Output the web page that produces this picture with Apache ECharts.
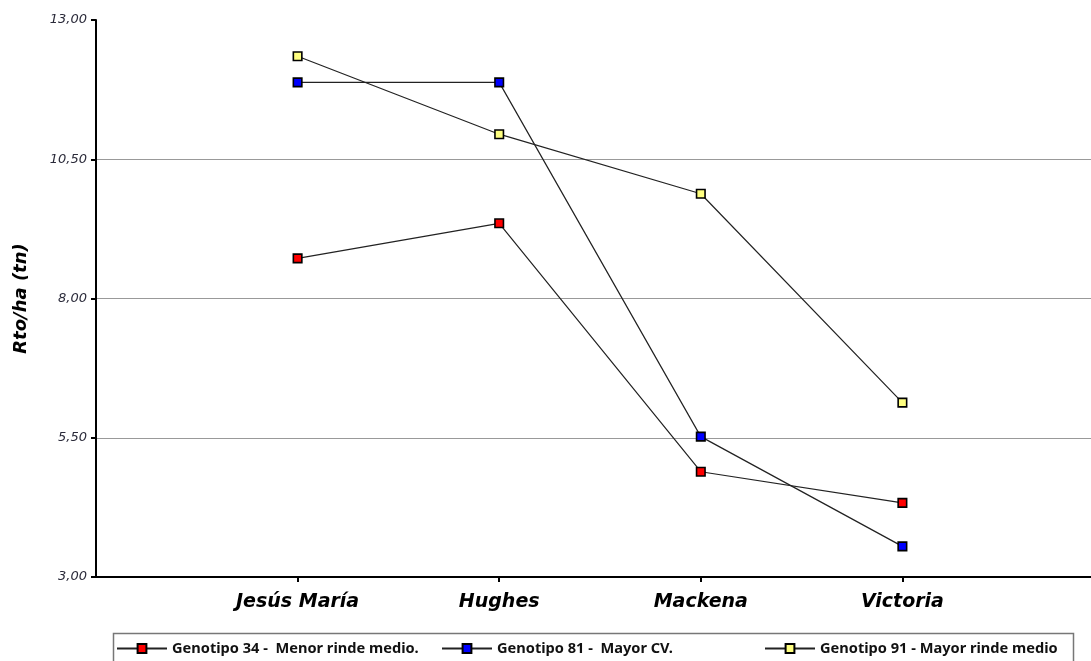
<!DOCTYPE html>
<html>
<head>
<meta charset="utf-8">
<script src="https://cdn.jsdelivr.net/npm/echarts@6/dist/echarts.min.js"></script>
<style>
  html, body { margin: 0; padding: 0; background: #fff; }
  #chart { width: 1091px; height: 661px; }
</style>
</head>
<body>
<div id="chart"></div>
<script>
// Sites (x axis) and yield per genotype (t/ha)
const sites = ['Jesús María', 'Hughes', 'Mackena', 'Victoria'];
const gen34 = [8.72, 9.35, 4.89, 4.33];
const gen81 = [11.88, 11.88, 5.52, 3.55];
const gen91 = [12.35, 10.95, 9.88, 6.13];
const yTicks = [3, 5.5, 8, 10.5, 13];

const names = [
  'Genotipo 34 -  Menor rinde medio.',
  'Genotipo 81 -  Mayor CV.',
  'Genotipo 91 - Mayor rinde medio'
];
const fills = ['#ff0000', '#0000ff', '#ffff80'];
const values = [gen34, gen81, gen91];

// blank slots on both ends leave room around the sites
const axisCats = [''].concat(sites, ['']);

const chart = echarts.init(document.getElementById('chart'));

const series = values.map((vals, s) => ({
  name: names[s],
  type: 'line',
  data: vals.map((v, i) => [i + 1, v]),
  symbol: 'rect',
  symbolSize: 8.5,
  itemStyle: { color: fills[s], borderColor: '#000', borderWidth: 1.6 },
  lineStyle: { color: '#222', width: 1.2 },
  emphasis: { disabled: true },
  animation: false,
  z: 3 + s
}));

const legendLefts = [116, 441, 764];
const legendText = { fontFamily: 'Liberation Sans Narrow, Noto Sans, sans-serif', fontSize: 14.6, color: '#111', fontWeight: 'bold' };
const boldItalic = { fontFamily: 'DejaVu Sans, sans-serif', fontStyle: 'italic', fontWeight: 'bold', color: '#000' };

chart.setOption({
  animation: false,
  grid: { left: 96, width: 1008, top: 20, bottom: 84, containLabel: false, outerBoundsMode: 'none' },
  xAxis: {
    type: 'category',
    boundaryGap: false,
    data: axisCats,
    axisLine: { lineStyle: { color: '#000', width: 2 } },
    axisTick: {
      length: 5,
      lineStyle: { color: '#000', width: 2 },
      interval: (idx) => idx > 0 && idx < axisCats.length - 1
    },
    axisLabel: Object.assign({ interval: 0, margin: 16, fontSize: 19 }, boldItalic),
    splitLine: { show: false }
  },
  yAxis: {
    type: 'value',
    min: yTicks[0],
    max: yTicks[yTicks.length - 1],
    interval: 2.5,
    name: 'Rto/ha (tn)',
    nameLocation: 'middle',
    nameGap: 66,
    nameTextStyle: Object.assign({ fontSize: 18 }, boldItalic),
    axisLine: { show: true, lineStyle: { color: '#000', width: 2 } },
    axisTick: { show: true, length: 5, lineStyle: { color: '#000', width: 2 } },
    axisLabel: {
      margin: 9,
      fontFamily: 'DejaVu Sans, sans-serif',
      fontStyle: 'italic',
      fontSize: 13,
      color: '#2b2b3a',
      formatter: (v) => v.toFixed(2).replace('.', ',')
    },
    splitLine: {
      show: true,
      lineStyle: { color: ['#999', '#999', '#999', '#999', 'rgba(0,0,0,0)'], width: 1 }
    }
  },
  legend: names.map((n, i) => ({
    data: [n],
    left: legendLefts[i],
    top: 641,
    padding: 0,
    itemWidth: 50,
    itemHeight: 11,
    itemGap: 0,
    selectedMode: false,
    textStyle: legendText
  })),
  graphic: [{
    type: 'rect',
    shape: { x: 113.5, y: 633.5, width: 960, height: 40 },
    style: { fill: 'none', stroke: '#777', lineWidth: 1.5 },
    silent: true
  }],
  series: series
});
</script>
</body>
</html>
